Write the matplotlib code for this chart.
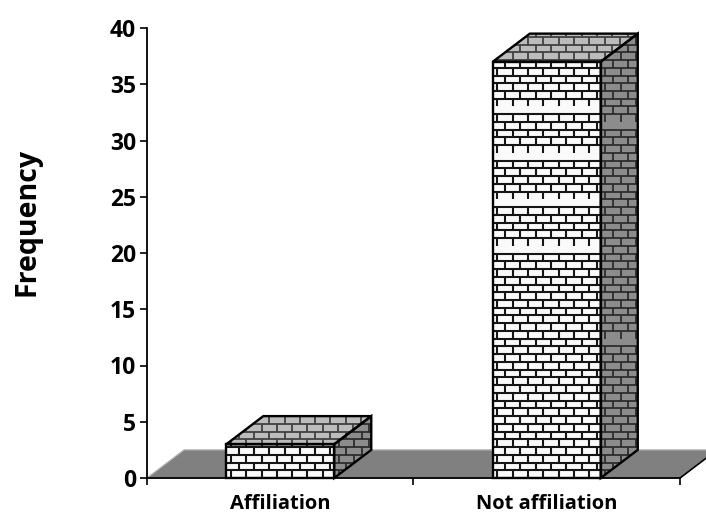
import numpy as np
import matplotlib
matplotlib.use("Agg")
import matplotlib.pyplot as plt
from matplotlib.collections import LineCollection
from matplotlib.patches import Polygon

categories = ["Affiliation", "Not affiliation"]
frequency = [3, 37]
y_ticks = [0, 5, 10, 15, 20, 25, 30, 35, 40]

plt.rcParams['font.family'] = ['Open Sans', 'DejaVu Sans']

fig = plt.figure(figsize=(7.06, 5.14), dpi=100)
ax = fig.add_axes([147 / 706, 1 - 478 / 514, 533 / 706, 450 / 514])
ax.set_xlim(0, 2)
ax.set_ylim(0, 40)

# size of the 3d look, in data units
bar_width = 0.405
depth_x = 0.139
depth_y = 2.5
brick_w = 0.0575
brick_h = 0.688


def brick_face(corners, fill, line_color, lw, skip_rows=()):
    # brick pattern stays upright whatever the face shape, it is just cut off by the polygon
    corners = np.array(corners)
    x0, x1 = corners[:, 0].min(), corners[:, 0].max()
    y1 = corners[:, 1].max()
    poly = Polygon(corners, closed=True, facecolor=fill, edgecolor='none', zorder=3)
    ax.add_patch(poly)
    segs = []
    for r in range(int(y1 / brick_h) + 1):
        y = r * brick_h
        if r not in skip_rows:
            segs.append([(x0, y), (x1, y)])
        # no joints in the row below a missing line, that gives the white bands
        if r + 1 in skip_rows:
            continue
        start = x0 + (brick_w / 2 if r % 2 else 0) + brick_w * 0.3
        for x in np.arange(start, x1, brick_w):
            segs.append([(x, y), (x, y + brick_h)])
    bricks = LineCollection(segs, colors=line_color, linewidths=lw, zorder=4)
    ax.add_collection(bricks)
    bricks.set_clip_path(poly)
    ax.add_patch(Polygon(corners, closed=True, facecolor='none', edgecolor='black',
                         linewidth=1.7, clip_on=False, zorder=5))


# floor behind the bars
ax.add_patch(Polygon([[0, 0], [depth_x, depth_y], [2 + depth_x, depth_y], [2, 0]], closed=True,
                     facecolor='#808080', edgecolor='#b4b4b4', linewidth=0.9, clip_on=False, zorder=1))
ax.plot([2, 2 + depth_x], [0, depth_y], color='black', lw=1.2, clip_on=False, zorder=2)

for i, h in enumerate(frequency):
    left = i + 0.5 - bar_width / 2
    right = left + bar_width
    front_skip = (30, 36, 42, 48) if h > 30 else ()
    side_skip = (46, 18) if h > 30 else ()
    brick_face([(left, 0), (right, 0), (right, h), (left, h)], '#fafafa', '#151515', 1.5, front_skip)
    brick_face([(left, h), (right, h), (right + depth_x, h + depth_y), (left + depth_x, h + depth_y)],
               '#bcbcbc', '#404040', 1.3)
    brick_face([(right, 0), (right + depth_x, depth_y), (right + depth_x, h + depth_y), (right, h)],
               '#8c8c8c', '#2a2a2a', 1.25, side_skip)

for side in ['top', 'right']:
    ax.spines[side].set_visible(False)
for side in ['left', 'bottom']:
    ax.spines[side].set_linewidth(1.3)
    ax.spines[side].set_zorder(6)

ax.set_yticks(y_ticks)
ax.set_xticks([0, 1, 2])
ax.set_xticklabels([])
ax.set_xticks([0.5, 1.5], minor=True)
ax.set_xticklabels(categories, minor=True, fontsize=14.5, fontweight='bold')
ax.tick_params(axis='x', which='minor', length=0, pad=11.5)
ax.tick_params(axis='x', which='major', length=5, width=1.2)
ax.tick_params(axis='y', length=5, width=1.2, pad=3, labelsize=16.5)
for label in ax.get_yticklabels():
    label.set_fontweight('bold')

fig.text(27 / 706, 1 - 222 / 514, "Frequency", rotation=90, fontsize=20.5, fontweight='bold',
         ha='center', va='center')

fig.savefig("out.png", dpi=100)
